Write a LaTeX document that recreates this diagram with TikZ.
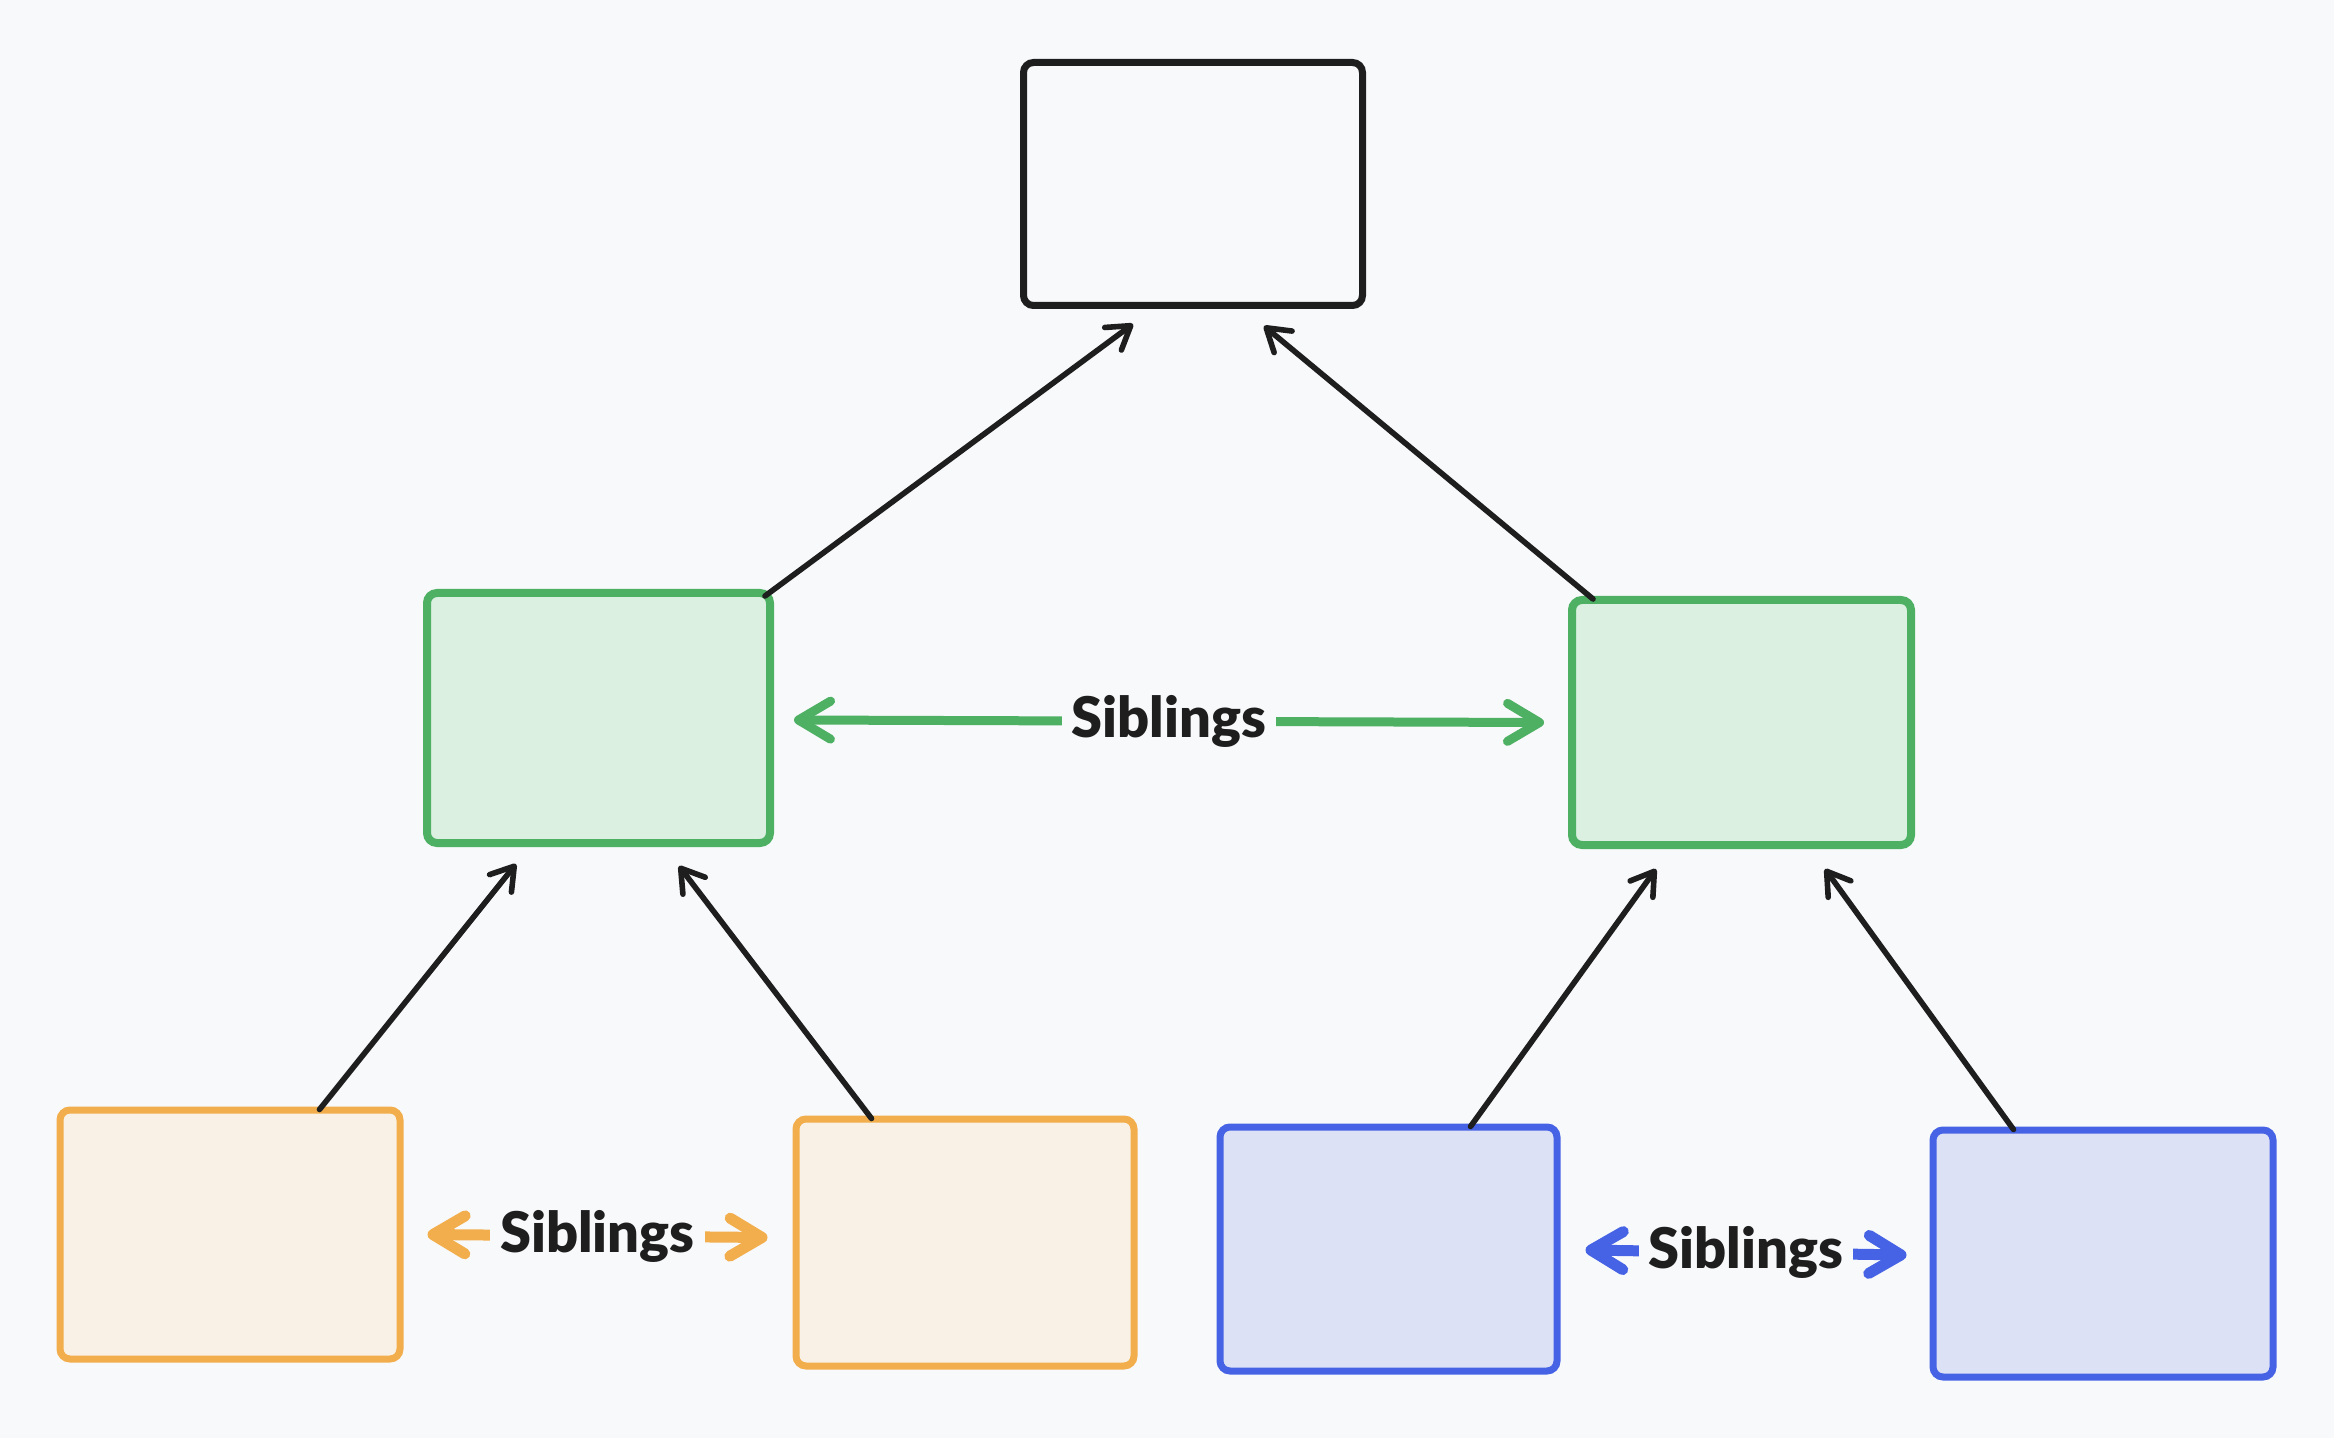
\documentclass[tikz,border=0pt]{standalone}
\usepackage{fontspec}
\setmainfont{Lato}
\usetikzlibrary{arrows.meta,calc}
\definecolor{bgc}{HTML}{F8F9FB}
\definecolor{ink}{HTML}{1E1E1E}
\definecolor{grn}{HTML}{4DB062}
\definecolor{grnf}{HTML}{DBF0E1}
\definecolor{org}{HTML}{F2AE4C}
\definecolor{orgf}{HTML}{FAF1E6}
\definecolor{blu}{HTML}{4563E4}
\definecolor{bluf}{HTML}{DDE1F6}
\tikzset{
  box/.style={draw, rounded corners=5pt, inner sep=0pt, line width=3.5pt},
  rootbox/.style={box, draw=ink, fill=bgc},
  greenbox/.style={box, draw=grn, fill=grnf, line width=4pt},
  orangebox/.style={box, draw=org, fill=orgf},
  bluebox/.style={box, draw=blu, fill=bluf},
  link/.style={draw=ink, line width=2.8pt, line cap=round,
    -{Straight Barb[length=11pt,width=14pt,line cap=round,line join=round]}},
  sib/.style={line width=4.5pt, line cap=round,
    {Straight Barb[length=16pt,width=19pt,line cap=round,line join=round]}-{Straight Barb[length=16pt,width=19pt,line cap=round,line join=round]}},
  siblabel/.style={fill=bgc, text=ink, font=\fontspec{Lato Black}\fontsize{28}{32}\selectfont, inner xsep=5pt, inner ysep=2pt}
}
\begin{document}
\begin{tikzpicture}[x=0.5pt,y=-0.5pt]
\fill[bgc] (0,0) rectangle (2334,1438);
\useasboundingbox (0,0) rectangle (2334,1438);

\node[rootbox, minimum width=169.5pt, minimum height=121.5pt] (root) at (1193,184) {};
\node[greenbox, minimum width=171.5pt, minimum height=125pt] (gl) at (598.5,718) {};
\node[greenbox, minimum width=169.5pt, minimum height=122.5pt] (gr) at (1741.5,722.5) {};
\node[orangebox, minimum width=170pt, minimum height=124.5pt] (ol) at (230,1234.5) {};
\node[orangebox, minimum width=169pt, minimum height=123.5pt] (or) at (965,1242.5) {};
\node[bluebox, minimum width=168.5pt, minimum height=122pt] (bl) at (1388.5,1249) {};
\node[bluebox, minimum width=170pt, minimum height=123.5pt] (br) at (2103,1253.5) {};

% parent links
\draw[link] ($(gl.north east)+(-9,7)$) -- ($(root.south west)+(113,15)$);
\draw[link] ($(gr.north west)+(25,3)$) -- ($(root.south west)+(244,17)$);
\draw[link] ($(ol.north west)+(263,3)$) -- ($(gl.south west)+(93,17)$);
\draw[link] ($(or.north west)+(79,3)$) -- ($(gl.south west)+(256,19)$);
\draw[link] ($(bl.north west)+(254,3)$) -- ($(gr.south west)+(88,20)$);
\draw[link] ($(br.north west)+(84,3)$) -- ($(gr.south west)+(257,20)$);

% siblings
\draw[sib, draw=grn] ($(gl.east)+(20,2)$) -- node[siblabel] {Siblings} ($(gr.west)+(-24,0)$);
\draw[sib, draw=org, line width=5.5pt] ($(ol.east)+(24,0)$) -- node[siblabel] {Siblings} ($(or.west)+(-25,-5)$);
\draw[sib, draw=blu, line width=5.5pt] ($(bl.east)+(25,1)$) -- node[siblabel] {Siblings} ($(br.west)+(-23,1.5)$);
\end{tikzpicture}
\end{document}
